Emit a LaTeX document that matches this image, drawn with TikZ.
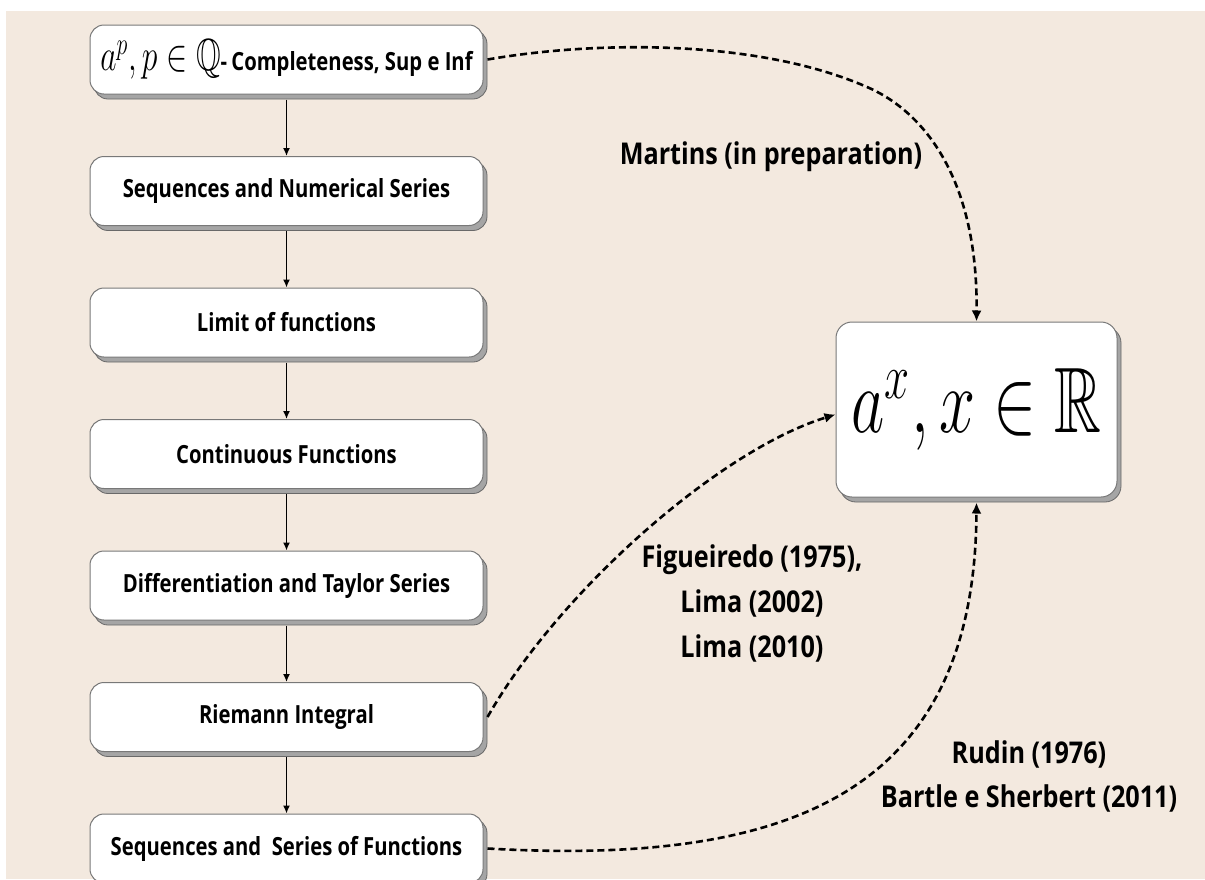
\documentclass[tikz,border=0pt]{standalone}
\usepackage{fontspec}
\usepackage{amssymb}
\usetikzlibrary{arrows.meta,shadows}
\newfontfamily\lab{Open Sans}[FakeStretch=0.81]
\newfontfamily\labb{Open Sans}[FakeStretch=0.84]
\definecolor{bg}{RGB}{243,233,223}
\definecolor{boxline}{RGB}{120,120,120}
\definecolor{shfill}{RGB}{165,165,165}
\definecolor{shline}{RGB}{105,105,105}
\tikzset{
  box/.style={draw=boxline, fill=white, line width=1pt, rounded corners=14pt,
    minimum width=393pt, minimum height=69pt, inner sep=0pt,
    font=\lab\bfseries\fontsize{25}{30}\selectfont,
    general shadow={fill=shfill, draw=shline, line width=0.8pt, shadow xshift=4pt, shadow yshift=-5pt}},
  bigbox/.style={box, minimum width=281pt, minimum height=175pt, rounded corners=16pt},
  lbl/.style={font=\labb\bfseries\fontsize{30}{45}\selectfont, inner sep=0pt, align=center},
  arr/.style={line width=1.4pt, -{Latex[length=8pt,width=7pt]}},
  dsh/.style={line width=2.6pt, dash pattern=on 7pt off 4pt, -{Latex[length=11pt,width=10pt]}}
}
\begin{document}
\begin{tikzpicture}[x=1pt,y=-1pt]
\useasboundingbox (0,0) rectangle (1205,879);
\fill[white] (0,0) rectangle (1205,879);
\fill[bg] (6,11) rectangle (1205,879);

\node[box] (b1) at (286.5,59.5) {\scalebox{1.27}[1.8]{$a^p, p \in \mathbb{Q}$}-\,Completeness, Sup e Inf};
\node[box] (b2) at (286.5,191) {Sequences and Numerical Series};
\node[box] (b3) at (286.5,322.5) {Limit of functions};
\node[box] (b4) at (286.5,454) {Continuous Functions};
\node[box] (b5) at (286.5,585.5) {Differentiation and Taylor Series};
\node[box] (b6) at (286.5,717) {Riemann Integral};
\node[box] (b7) at (286.5,848.5) {Sequences and\ \ Series of Functions};

\node[bigbox] (R) at (976.5,409.5) {\scalebox{2.6}[3.72]{$a^x, x \in \mathbb{R}$}};

\foreach \i/\j in {b1/b2,b2/b3,b3/b4,b4/b5,b5/b6,b6/b7}
  \draw[arr] ([yshift=-5pt]\i.south) -- (\j.north);

\coordinate (c1) at (867,87);
\draw[dsh] ([xshift=4pt]b1.east) .. controls (600,40) and (760,40) .. (c1)
  .. controls (925,112) and (978,180) .. (R.north);
\draw[dsh] ([xshift=4pt]b6.east) .. controls (560,590) and (720,450) .. ([yshift=-5pt]R.west);
\draw[dsh] ([xshift=4pt]b7.east) .. controls (780,865) and (975,800) .. ([yshift=-5pt]R.south);

\node[lbl] (m) at (771,157) {Martins (in preparation)};
\node[lbl] (f) at (752,603) {Figueiredo (1975),\\Lima (2002)\\Lima (2010)};
\node[lbl, font=\labb\bfseries\fontsize{30}{44}\selectfont] (r) at (1029,776) {Rudin (1976)\\Bartle e Sherbert (2011)};
\end{tikzpicture}
\end{document}
